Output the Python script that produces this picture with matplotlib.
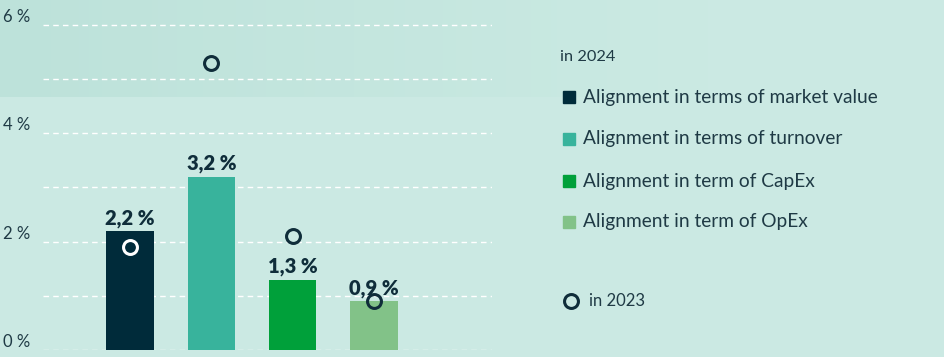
import matplotlib
matplotlib.use("Agg")
import matplotlib.pyplot as plt
from matplotlib.patches import Rectangle
from matplotlib.lines import Line2D
from matplotlib.colors import to_rgb
import numpy as np

categories = ["Alignment in terms of market value", "Alignment in terms of turnover",
              "Alignment in term of CapEx", "Alignment in term of OpEx"]
values_2024 = [2.2, 3.2, 1.3, 0.9]
values_2023 = [1.9, 5.3, 2.1, 0.9]
value_labels = ["2,2 %", "3,2 %", "1,3 %", "0,9 %"]
yticks = [0, 2, 4, 6]
ytick_labels = ["0 %", "2 %", "4 %", "6 %"]
colors = ["#002b3a", "#38b39c", "#00a03a", "#82c288"]
circle_edges = ["#ffffff", "#0f2d3a", "#0f2d3a", "#0f2d3a"]

plt.rcParams['font.family'] = ['Lato', 'DejaVu Sans']
TXT = "#1f3a45"
BG = "#cbeae3"

W, H = 945, 357
fig = plt.figure(figsize=(W / 100, H / 100), dpi=100)
fig.patch.set_facecolor(BG)

# subtle background gradient (darker top-left band)
bg_ax = fig.add_axes([0, 0, 1, 1], zorder=-1)
bg_ax.axis("off")
base = np.array(to_rgb(BG))
dark = np.array(to_rgb("#bde2da"))
xs = np.linspace(0, 1, W)
ys = np.arange(H)
t = np.clip(1 - xs / 0.75, 0, 1)[None, :] * (ys < 97)[:, None]
img = base[None, None, :] * (1 - t[..., None]) + dark[None, None, :] * t[..., None]
bg_ax.imshow(img, aspect="auto", extent=(0, 1, 0, 1), origin="upper")

# axes: x pixel 43..492, y pixel 0..350
ax = fig.add_axes([43 / W, 7 / H, 449 / W, 350 / H])
ax.set_facecolor("none")
x = np.arange(len(categories))
ax.set_xlim(-1.07, 4.45)
ax.set_ylim(0, 6.46)

for g in np.arange(0, 7, 1):
    ax.axhline(g, color="white", lw=1.0, ls=(0, (4, 3)), zorder=0)

ax.bar(x, values_2024, width=0.58, color=colors, zorder=2)
for xi, v, lab in zip(x, values_2024, value_labels):
    ax.text(xi, v + 0.06, lab, ha="center", va="bottom", fontsize=14.5,
            fontweight="heavy", color="#0f2d3a", zorder=3)
for xi, v, ec in zip(x, values_2023, circle_edges):
    ax.plot(xi, v, marker="o", ms=10, mfc="none", mec=ec, mew=2.2, zorder=4)

ax.set_yticks(yticks)
ax.set_yticklabels(ytick_labels, fontsize=12, color=TXT)
ax.tick_params(axis="y", length=0, pad=9)
for lbl in ax.get_yticklabels():
    lbl.set_verticalalignment("bottom")
ax.set_xticks([])
for s in ax.spines.values():
    s.set_visible(False)

# legend
fig.text(560 / W, 1 - 57 / H, "in 2024", fontsize=11.8, color=TXT, va="center", ha="left")
rows_y = [97, 139, 181, 222]
for yy, c, lab in zip(rows_y, colors, categories):
    fig.patches.append(Rectangle((563 / W, 1 - (yy + 6) / H), 12 / W, 12 / H,
                                 transform=fig.transFigure, color=c))
    fig.text(583 / W, 1 - yy / H, lab, fontsize=13.8, color=TXT, va="center", ha="left")
fig.lines.append(Line2D([571 / W], [1 - 301 / H], transform=fig.transFigure, marker="o",
                        ms=10, mfc="none", mec="#0f2d3a", mew=2.2))
fig.text(589 / W, 1 - 301 / H, "in 2023", fontsize=12, color=TXT, va="center", ha="left")

fig.savefig("out.png", dpi=100, facecolor=BG)
